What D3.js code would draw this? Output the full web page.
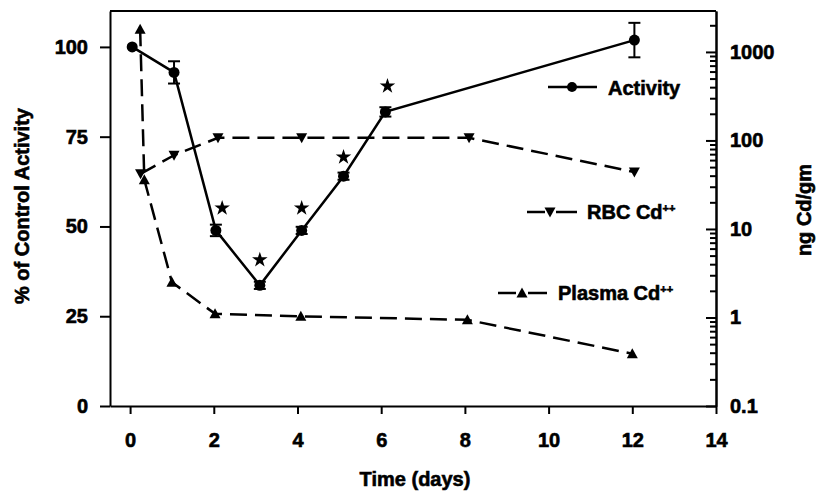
<!DOCTYPE html>
<html>
<head>
<meta charset="utf-8">
<script src="https://cdn.jsdelivr.net/npm/d3@7"></script>
<style>
  body { margin: 0; background: #fff; }
  svg { font-family: "Liberation Sans", Arial, sans-serif; font-weight: bold; }
  svg text { stroke: #000; stroke-width: 0.6; fill: #000; }
  .axis path, .axis line { stroke: #000; stroke-width: 2; }
  .axis text { font-size: 20px; font-weight: bold; }
</style>
</head>
<body>
<svg class="chart" width="820" height="496"></svg>
<script>
// activity, % of control (left axis)
var actDays = [0.05, 1.05, 2.05, 3.1, 4.1, 5.1, 6.1, 12.05];
var actPct = [100, 92.9, 48.9, 33.6, 48.9, 64, 81.9, 101.9];
var actErr = [0, 3.1, 1.6, 1, 1, 1, 1.3, 4.8];

// significance stars
var starDays = [2.2, 3.1, 4.1, 5.1, 6.15];
var starPct = [55.1, 40.7, 55.1, 69.3, 89.1];

// cadmium, ng Cd/gm (right axis, log)
var rbcDays = [0.25, 1.05, 2.1, 4.1, 8.1, 12.05];
var rbcCd = [42, 68, 107, 107, 107, 44];
var plasmaDays = [0.24, 0.34, 1.0, 2.03, 4.08, 8.06, 12.0];
var plasmaCd = [1800, 36, 2.5, 1.1, 1.03, 0.94, 0.39];

var xTicks = [0, 2, 4, 6, 8, 10, 12, 14];
var leftTicks = [0, 25, 50, 75, 100];
var rightTicks = [0.1, 1, 10, 100, 1000];

(function () {
  var left = 110, right = 716, top = 11, bottom = 406;

  var svg = d3.select(".chart");

  var x = d3.scaleLinear().domain([-0.48, 14]).range([left, right]);
  var yL = d3.scaleLinear().domain([0, 110]).range([bottom, top]);
  var yR = d3.scaleLog().domain([0.1, 2900]).range([bottom, top]);

  // axes
  svg.append("g")
    .attr("class", "axis")
    .attr("transform", "translate(0," + bottom + ")")
    .call(d3.axisBottom(x).tickValues(xTicks).tickSize(8).tickSizeOuter(0).tickPadding(19));

  svg.append("g")
    .attr("class", "axis")
    .attr("transform", "translate(" + left + ",0)")
    .call(d3.axisLeft(yL).tickValues(leftTicks).tickSize(10).tickSizeOuter(0).tickPadding(12));

  var minor = [];
  rightTicks.forEach(function(d) {
    for (var k = 2; k <= 9; k++) {
      if (d * k <= 2900) minor.push(d * k);
    }
  });

  svg.append("g")
    .attr("class", "axis")
    .attr("transform", "translate(" + right + ",0)")
    .call(d3.axisRight(yR).tickValues(minor).tickSizeInner(-6).tickSizeOuter(0).tickFormat(""));

  svg.append("g")
    .attr("class", "axis")
    .attr("transform", "translate(" + right + ",0)")
    .call(d3.axisRight(yR).tickValues(rightTicks).tickSizeInner(-10).tickSizeOuter(0).tickPadding(14)
      .tickFormat(function(d) { return d < 1 ? "0.1" : d3.format("d")(d); }));

  svg.append("line")
    .attr("x1", left).attr("x2", right)
    .attr("y1", top).attr("y2", top)
    .attr("stroke", "#000").attr("stroke-width", 2);

  // axis titles
  svg.append("text")
    .attr("x", 415).attr("y", 486)
    .attr("text-anchor", "middle")
    .style("font-size", "20px")
    .text("Time (days)");

  svg.append("text")
    .attr("transform", "translate(29,206) rotate(-90)")
    .attr("text-anchor", "middle")
    .style("font-size", "20px")
    .text("% of Control Activity");

  svg.append("text")
    .attr("transform", "translate(811,210) rotate(-90)")
    .attr("text-anchor", "middle")
    .style("font-size", "20px")
    .text("ng Cd/gm");

  function tri(cx, cy, down) {
    var s = down ? -1 : 1;
    return "M" + (cx - 5.5) + "," + (cy + 4.5 * s) + "L" + (cx + 5.5) + "," + (cy + 4.5 * s) +
      "L" + cx + "," + (cy - 5.5 * s) + "Z";
  }

  var act = actDays.map(function(d, i) { return {t: d, v: actPct[i], e: actErr[i]}; });
  var rbc = rbcDays.map(function(d, i) { return {t: d, v: rbcCd[i]}; });
  var plasma = plasmaDays.map(function(d, i) { return {t: d, v: plasmaCd[i]}; });

  // plasma
  svg.append("path")
    .datum(plasma)
    .attr("fill", "none").attr("stroke", "#000").attr("stroke-width", 2.5)
    .attr("stroke-dasharray", "17,8")
    .attr("d", d3.line().x(function(d) { return x(d.t); }).y(function(d) { return yR(d.v); }));
  svg.selectAll(".pl").data(plasma).enter().append("path")
    .attr("class", "pl")
    .attr("d", function(d) { return tri(x(d.t), yR(d.v), false); });

  // rbc
  svg.append("path")
    .datum(rbc)
    .attr("fill", "none").attr("stroke", "#000").attr("stroke-width", 2.5)
    .attr("stroke-dasharray", "17,8")
    .attr("d", d3.line().x(function(d) { return x(d.t); }).y(function(d) { return yR(d.v); }));
  svg.selectAll(".rb").data(rbc).enter().append("path")
    .attr("class", "rb")
    .attr("d", function(d) { return tri(x(d.t), yR(d.v), true); });

  // activity
  svg.append("path")
    .datum(act)
    .attr("fill", "none").attr("stroke", "#000").attr("stroke-width", 2.5)
    .attr("d", d3.line().x(function(d) { return x(d.t); }).y(function(d) { return yL(d.v); }));

  var eb = svg.selectAll(".eb").data(act.filter(function(d) { return d.e > 0; })).enter().append("g")
    .attr("stroke", "#000").attr("stroke-width", 2);
  eb.append("line")
    .attr("x1", function(d) { return x(d.t); }).attr("x2", function(d) { return x(d.t); })
    .attr("y1", function(d) { return yL(d.v + d.e); }).attr("y2", function(d) { return yL(d.v - d.e); });
  eb.append("line")
    .attr("x1", function(d) { return x(d.t) - 6; }).attr("x2", function(d) { return x(d.t) + 6; })
    .attr("y1", function(d) { return yL(d.v + d.e); }).attr("y2", function(d) { return yL(d.v + d.e); });
  eb.append("line")
    .attr("x1", function(d) { return x(d.t) - 6; }).attr("x2", function(d) { return x(d.t) + 6; })
    .attr("y1", function(d) { return yL(d.v - d.e); }).attr("y2", function(d) { return yL(d.v - d.e); });

  svg.selectAll(".ac").data(act).enter().append("circle")
    .attr("cx", function(d) { return x(d.t); })
    .attr("cy", function(d) { return yL(d.v); })
    .attr("r", 5.5);

  // stars
  var star = d3.symbol().type(d3.symbolStar).size(75);
  svg.selectAll(".st").data(starDays).enter().append("path")
    .attr("transform", function(d, i) { return "translate(" + x(d) + "," + yL(starPct[i]) + ")"; })
    .attr("d", star);

  // legend
  var lg = svg.append("g").attr("stroke", "#000").attr("stroke-width", 2.5);
  lg.append("line").attr("x1", 548).attr("x2", 597).attr("y1", 87).attr("y2", 87);
  svg.append("circle").attr("cx", 572).attr("cy", 87).attr("r", 5);

  lg.append("line").attr("x1", 527).attr("x2", 545).attr("y1", 212).attr("y2", 212);
  lg.append("line").attr("x1", 556).attr("x2", 577).attr("y1", 212).attr("y2", 212);
  svg.append("path").attr("d", tri(550, 212, true));

  lg.append("line").attr("x1", 498).attr("x2", 516).attr("y1", 293).attr("y2", 293);
  lg.append("line").attr("x1", 528).attr("x2", 547).attr("y1", 293).attr("y2", 293);
  svg.append("path").attr("d", tri(522, 293, false));

  function legendText(tx, ty, label, sup) {
    var t = svg.append("text").attr("x", tx).attr("y", ty).attr("dy", "0.35em")
      .style("font-size", "20px").text(label);
    if (sup) {
      t.append("tspan").attr("dy", "-0.6em").style("font-size", "11px").text(sup);
    }
  }
  legendText(608, 88, "Activity");
  legendText(587, 212, "RBC Cd", "++");
  legendText(558, 293, "Plasma Cd", "++");
})();
</script>
</body>
</html>
